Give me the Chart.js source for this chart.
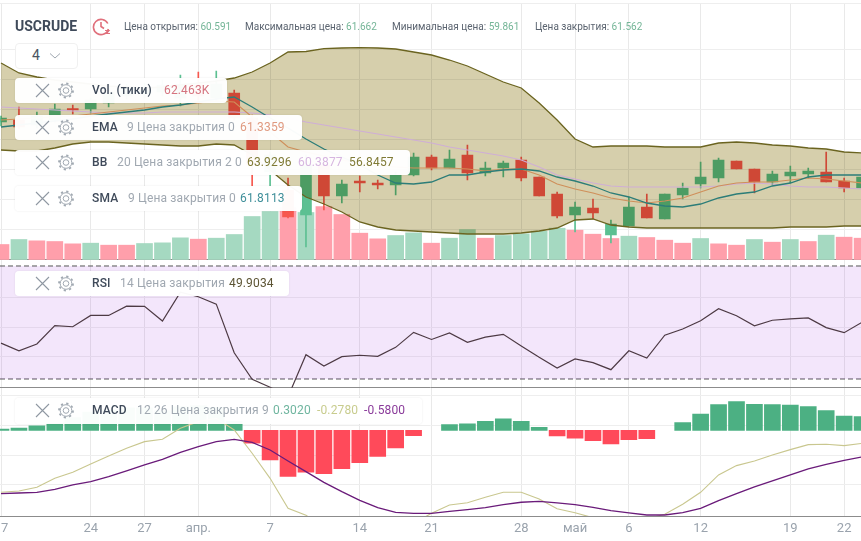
<!DOCTYPE html>
<html>
<head>
<meta charset="utf-8">
<title>USCRUDE</title>
<script src="https://cdn.jsdelivr.net/npm/chart.js@4"></script>
<style>
  html, body { margin: 0; padding: 0; background: #fff; width: 861px; height: 541px; overflow: hidden; }
  body { position: relative; font-family: Roboto, sans-serif; }
  canvas { position: absolute; left: 0; top: 0; }
  .txt { position: absolute; white-space: nowrap; }
  .head { top: 20px; font-size: 10px; line-height: 13px; color: #5b6470; }
  .head b { font-weight: 400; color: #74b597; }
  .tag { position: absolute; left: 15px; height: 25px; background: rgba(255,255,255,.97); border-radius: 4px; box-shadow: 0 0 2px rgba(0,0,0,.1); }
  .tag span { position: absolute; top: 0; line-height: 25px; font-size: 12px; letter-spacing: .15px; color: #a0a8b1; white-space: nowrap; }
  .tag .nm { left: 77px; font-size: 12px; font-weight: 500; color: #3f4a5a; }
  .tag svg { position: absolute; left: 19px; top: 4px; }
</style>
</head>
<body>
<canvas id="c" width="861" height="541" style="width:861px;height:541px"></canvas>

<div class="txt" style="left:15px;top:18px;font-size:14px;font-weight:700;line-height:17px;color:#3f4a5a">USCRUDE</div>
<svg class="txt" style="left:92px;top:17px" width="19" height="19" viewBox="0 0 19 19" fill="none" stroke="#e0707c" stroke-width="1.6">
  <path d="M15.8 6.5A7.6 7.6 0 1 0 16.4 12"/><path d="M9 5v4.5l3 2"/><path d="M13 13.5h4l-2.5 3h3.5" stroke-width="1.2"/>
</svg>
<div class="txt head" style="left:124px">Цена открытия: <b>60.591</b></div>
<div class="txt head" style="left:245px">Максимальная цена: <b>61.662</b></div>
<div class="txt head" style="left:392px">Минимальная цена: <b>59.861</b></div>
<div class="txt head" style="left:535px">Цена закрытия: <b>61.562</b></div>

<div class="txt" style="left:15px;top:43px;width:61px;height:24px;border:1px solid #f0f0f0;border-radius:4px;background:#fff">
  <span class="txt" style="left:16px;top:3px;font-size:14px;line-height:17px;color:#4a5462">4</span>
  <svg class="txt" style="left:33px;top:8px" width="12" height="8"><path d="M1 1.5l5 4.5 5-4.5" fill="none" stroke="#a0a8b1"/></svg>
</div>

<svg width="0" height="0" style="position:absolute">
  <symbol id="tools" viewBox="0 0 50 17">
    <path d="M2 2l13 13M15 2L2 15" stroke="#8f98a2" stroke-width="1.1" fill="none"/>
    <g fill="none" stroke="#a0a8b1">
      <circle cx="32" cy="8.5" r="2.8"/><circle cx="32" cy="8.5" r="5.8"/>
      <circle cx="32" cy="8.5" r="7" stroke-width="1.8" stroke-dasharray="2.2 3.3"/>
    </g>
  </symbol>
</svg>

<div class="tag" style="top:78px;width:212px">
  <svg width="50" height="17"><use href="#tools"/></svg>
  <span class="nm">Vol. (тики)</span><span style="left:149px;color:#d5747f">62.463K</span>
</div>
<div class="tag" style="top:115px;width:287px">
  <svg width="50" height="17"><use href="#tools"/></svg>
  <span class="nm">EMA</span><span style="left:112px">9 Цена закрытия 0</span><span style="left:225px;color:#e09a80">61.3359</span>
</div>
<div class="tag" style="top:150px;width:395px">
  <svg width="50" height="17"><use href="#tools"/></svg>
  <span class="nm">BB</span><span style="left:102px">20 Цена закрытия 2 0</span><span style="left:232px;color:#7f7a35">63.9296</span><span style="left:283px;color:#d6b6e0">60.3877</span><span style="left:334px;color:#7f7a35">56.8457</span>
</div>
<div class="tag" style="top:186px;width:287px">
  <svg width="50" height="17"><use href="#tools"/></svg>
  <span class="nm">SMA</span><span style="left:113px">9 Цена закрытия 0</span><span style="left:225px;color:#3f8f9a">61.8113</span>
</div>
<div class="tag" style="top:271px;width:274px">
  <svg width="50" height="17"><use href="#tools"/></svg>
  <span class="nm">RSI</span><span style="left:105px">14 Цена закрытия</span><span style="left:214px;color:#5c5434">49.9034</span>
</div>
<div class="tag" style="top:398px;width:407px;height:26px">
  <svg width="50" height="17"><use href="#tools"/></svg>
  <span class="nm">MACD</span><span style="left:122px">12 26 Цена закрытия 9</span><span style="left:258px;color:#6fb59f">0.3020</span><span style="left:302px;color:#c8cc8e">-0.2780</span><span style="left:349px;color:#8a3a9a">-0.5800</span>
</div>

<script>
// ticks on the time axis
var tickIndex = [0, 5, 8, 11, 15, 20, 24, 29, 32, 35, 39, 44, 47];
var tickLabels = ['17', '24', '27', 'апр.', '7', '14', '21', '28', 'май', '6', '12', '19', '22'];

// candles
var open = [67.06,67.26,66.76,67.26,68.41,68.36,68.96,69.66,69.86,70.06,69.46,70.76,69.46,69.96,67.46,62.06,60.26,57.76,62.76,59.66,61.16,60.96,60.76,61.76,63.56,62.46,63.76,61.96,62.46,63.26,61.56,59.86,57.76,58.46,55.76,56.66,58.56,57.36,59.76,60.86,61.46,63.16,62.36,61.06,61.66,61.86,62.06,61.16,60.46];
var close = [67.46,66.56,67.66,68.36,68.26,69.26,70.06,70.46,70.26,70.76,70.86,69.66,70.86,67.46,62.76,63.76,57.56,62.76,59.66,60.86,60.96,60.76,61.76,63.56,62.46,63.36,61.96,62.46,62.96,61.46,59.66,57.66,58.56,57.96,56.86,58.56,57.46,59.86,60.46,61.56,63.26,62.36,61.06,61.86,62.06,62.16,61.06,60.46,61.56];
var high = [67.66,68.56,68.06,68.86,68.76,69.46,70.46,70.86,70.96,71.26,71.76,72.06,72.16,70.26,67.76,64.06,61.46,63.76,63.26,61.26,61.66,61.26,62.06,63.96,63.76,64.26,64.76,63.06,63.16,63.56,61.56,60.06,59.06,59.36,57.26,59.56,59.86,59.86,60.96,63.06,63.46,63.16,62.36,62.16,62.66,62.46,64.06,61.46,61.56];
var low = [66.66,66.36,66.46,67.06,67.86,67.96,68.56,69.36,69.46,69.66,68.66,69.26,69.26,67.26,60.66,60.66,57.46,54.56,58.26,58.96,60.06,60.36,59.76,61.66,62.26,62.46,61.26,61.66,61.56,61.16,59.66,57.46,56.06,57.36,54.96,56.66,57.46,57.36,59.36,60.46,61.06,62.36,59.96,60.76,60.96,61.46,61.06,60.06,59.86];

// overlays on the price pane
var bbUpper = [72.96,71.96,71.56,71.26,71.06,70.86,70.66,70.56,70.46,70.56,70.76,70.96,71.16,71.46,72.06,72.96,74.06,74.11,74.39,74.46,74.49,74.46,74.36,74.06,73.76,73.26,72.66,71.86,71.06,70.46,68.96,67.26,65.36,64.56,64.66,64.66,64.66,64.56,64.56,64.56,64.96,65.06,64.96,64.76,64.66,64.46,64.36,64.06,63.96];
var bbMiddle = [68.56,68.46,68.36,68.26,68.16,68.06,67.96,67.96,67.96,68.06,68.06,68.06,68.06,68.06,67.96,67.76,67.46,67.06,66.76,66.46,66.16,65.86,65.56,65.26,64.96,64.56,64.26,63.96,63.66,63.26,62.56,61.76,61.36,60.96,60.66,60.56,60.56,60.56,60.56,60.56,60.66,60.86,60.96,60.86,60.66,60.56,60.56,60.46,60.36];
var bbLower = [64.26,64.16,64.16,64.46,64.86,65.06,65.06,64.96,64.86,64.76,64.66,64.66,64.86,64.76,63.76,62.26,60.76,59.56,58.86,58.06,57.06,56.56,56.26,56.16,56.06,55.96,55.86,55.86,55.86,55.96,56.16,56.46,57.26,57.36,56.76,56.56,56.46,56.46,56.46,56.46,56.46,56.46,56.46,56.46,56.56,56.56,56.56,56.66,56.66];
var ema = [67.26,67.36,67.46,67.56,67.66,67.86,68.06,68.26,68.46,68.66,68.76,68.96,69.16,69.06,67.56,66.06,64.56,64.06,63.66,63.26,62.96,62.76,62.56,62.46,62.46,62.46,62.36,62.16,62.36,62.36,61.76,60.86,60.36,59.96,59.46,59.16,58.96,59.16,59.46,60.06,60.66,60.96,61.06,61.06,61.26,61.46,61.36,61.16,60.96];
var sma = [66.56,66.76,66.96,67.16,67.36,67.66,67.86,68.06,68.26,68.56,68.76,69.06,69.36,69.56,68.56,67.46,66.46,65.36,64.36,63.56,62.76,61.76,60.96,60.86,61.06,61.76,61.76,62.06,62.26,62.36,62.16,61.56,61.16,60.66,59.96,59.56,58.96,58.66,58.56,58.86,59.46,59.86,60.06,60.66,60.96,61.56,61.76,61.76,61.76];

// volume, thousands of ticks, and whether the volume bar is green
var volume = [45,60,56,54,47,49,43,43,48,50,65,61,64,75,129,144,156,141,159,135,79,62,72,80,49,64,90,64,72,77,85,94,88,76,63,70,66,58,49,63,47,43,60,52,60,54,73,67,64];
var volumeUp = [0,1,0,0,0,1,0,0,1,1,1,0,1,1,1,1,0,1,0,0,0,0,1,1,0,1,1,0,1,1,1,1,0,0,0,1,0,0,0,1,0,0,1,0,1,0,1,0,0];

var rsi = [42.7,40.0,42.4,48.9,48.5,52.5,52.5,55.8,55.7,50.5,60.7,59.1,56.5,39.3,29.9,27.1,23.7,38.6,34.6,37.9,38.4,38.0,41.2,46.5,44.0,46.3,43.0,44.8,45.8,41.7,37.7,33.9,37.1,35.8,33.3,40.0,37.4,45.5,47.7,50.6,54.9,52.4,48.8,50.8,51.3,51.6,48.2,46.4,50.1];
var rsiLevels = [70, 30];

var macdHist = [0.03,0.05,0.10,0.15,0.28,0.40,0.45,0.49,0.49,0.43,0.52,0.54,0.50,0.20,-0.275,-0.64,-1.0,-0.906,-0.94,-0.83,-0.70,-0.565,-0.38,-0.116,null,0.13,0.145,0.196,0.254,0.20,0.07,-0.12,-0.17,-0.22,-0.29,-0.20,-0.18,null,0.17,0.355,0.56,0.63,0.57,0.56,0.55,0.52,0.43,0.31,0.30];
var macdLine = [-1.344,-1.315,-1.235,-1.04,-0.91,-0.73,-0.554,-0.388,-0.243,-0.192,0.047,0.192,0.264,0.01,-0.496,-1.04,-1.69,-1.84,-2.13,-2.35,-2.5,-2.55,-2.3,-2.02,-1.8,-1.62,-1.57,-1.45,-1.344,-1.344,-1.49,-1.7,-1.79,-1.895,-2.02,-2.05,-1.92,-1.82,-1.605,-1.344,-0.967,-0.764,-0.663,-0.533,-0.417,-0.308,-0.3,-0.33,-0.28];
var macdSignal = [-1.373,-1.359,-1.344,-1.279,-1.185,-1.112,-1.004,-0.88,-0.75,-0.627,-0.475,-0.351,-0.243,-0.192,-0.257,-0.424,-0.663,-0.895,-1.127,-1.33,-1.518,-1.678,-1.779,-1.8,-1.8,-1.757,-1.72,-1.677,-1.612,-1.56,-1.54,-1.576,-1.612,-1.67,-1.743,-1.793,-1.837,-1.837,-1.786,-1.692,-1.525,-1.373,-1.228,-1.098,-0.967,-0.837,-0.735,-0.648,-0.576];

// axis ranges and grid lines
var xMin = -0.056, xMax = 47.94;
var priceMin = 53.31, priceMax = 78.96;
var priceGrid = [78.96, 74.3, 71.3, 68.3, 65.3, 62.3, 59.3, 56.3, 53.31];
var rsiMin = 26.9, rsiMax = 72.3;
var rsiGrid = [59, 48.4, 37.8, 26.9];
var macdMin = -1.859, macdMax = 0.928;
var macdGrid = [0.75, 0.1, -0.54, -1.18];
var volumeRange = 769.5;

var GREEN = '#5cc092', RED = '#f7584f';

function pts(arr) {
  return arr.map(function(y, x) { return { x: x, y: y }; });
}
function range(a, b) {
  return a.map(function(v, i) { return { x: i, y: [v, b[i]] }; });
}
function line(data, color, order, yAxisID, width) {
  return { type: 'line', data: data, borderColor: color, borderWidth: width || 1.1, pointRadius: 0, tension: 0, order: order, yAxisID: yAxisID };
}
function bars(data, colors, thickness, order, yAxisID) {
  return { type: 'bar', data: data, backgroundColor: colors, barThickness: thickness, grouped: false, borderWidth: 0, order: order, yAxisID: yAxisID };
}
function fixedTicks(values) {
  return function(s) { s.ticks = values.map(function(v) { return { value: v }; }); };
}

var candleColors = close.map(function(c, i) { return c >= open[i] ? GREEN : RED; });
var volumeColors = volumeUp.map(function(u) { return u ? '#a5d9c1' : '#ff9fab'; });
var histColors = macdHist.map(function(v) { return v >= 0 ? '#4cb083' : '#ff4a5a'; });

var datasets = [
  bars(pts(volume), volumeColors, 16, 10, 'yVol'),        // 0
  bars(range(low, high), candleColors, 1, 9, 'y'),        // 1
  bars(range(open, close), candleColors, 11, 8, 'y'),     // 2
  line(pts(bbUpper), '#6b6420', 5, 'y', 1.3),             // 3
  line(pts(bbLower), '#6b6420', 5, 'y', 1.3),             // 4
  line(pts(bbMiddle), '#cfaed6', 4, 'y'),
  line(pts(ema), '#cf8f5a', 3, 'y'),
  line(pts(sma), '#2c7d78', 2, 'y', 1.3),
  // lavender band between the two RSI levels
  Object.assign(line([{ x: xMin, y: rsiLevels[0] }, { x: xMax, y: rsiLevels[0] }], '#555', 7, 'yRsi', 1), {
    borderDash: [5, 3],
    fill: { target: { value: rsiLevels[1] }, above: 'rgba(153,50,220,.12)', below: 'rgba(153,50,220,.12)' }
  }),
  Object.assign(line([{ x: xMin, y: rsiLevels[1] }, { x: xMax, y: rsiLevels[1] }], '#555', 7, 'yRsi', 1), { borderDash: [5, 3] }),
  line(pts(rsi), '#4d3a44', 1, 'yRsi', 1.2),
  bars(pts(macdHist), histColors, 16, 7, 'yMacd'),
  line(pts(macdLine), '#c9c78f', 2, 'yMacd', 1.1),
  line(pts(macdSignal), '#6a1b7a', 1, 'yMacd', 1.3)
];

// the Bollinger band is multiplied over volume and candles, so they tint through it
var bandFill = {
  id: 'bandFill',
  afterDatasetDraw: function(chart, args) {
    if (args.index !== 2) return;
    var up = chart.getDatasetMeta(3).data, lo = chart.getDatasetMeta(4).data;
    var ctx = chart.ctx;
    ctx.save();
    ctx.globalCompositeOperation = 'multiply';
    ctx.fillStyle = '#d6cfac';
    ctx.beginPath();
    up.forEach(function(p, i) { i ? ctx.lineTo(p.x, p.y) : ctx.moveTo(p.x, p.y); });
    for (var i = lo.length - 1; i >= 0; i--) ctx.lineTo(lo[i].x, lo[i].y);
    ctx.closePath();
    ctx.fill();
    ctx.restore();
  }
};

function paneGrid(bottom) {
  return {
    drawTicks: false,
    color: function(c) { return c.tick && c.tick.value === bottom ? '#8c8c8c' : '#eeeeee'; }
  };
}
function paneAxis(min, max, weight, gridValues, bottom) {
  return {
    stack: 'panes', stackWeight: weight, min: min, max: max, position: 'left',
    border: { display: false }, ticks: { display: false },
    grid: paneGrid(bottom), afterBuildTicks: fixedTicks(gridValues)
  };
}

new Chart(document.getElementById('c'), {
  data: { datasets: datasets },
  plugins: [bandFill],
  options: {
    responsive: false,
    animation: false,
    events: [],
    layout: { padding: { top: 3, left: 0, right: 0, bottom: 0 } },
    plugins: { legend: { display: false }, tooltip: { enabled: false } },
    scales: {
      x: {
        type: 'linear', min: xMin, max: xMax, offset: false,
        border: { color: '#8c8c8c' },
        grid: { color: '#e9e9e9', drawTicks: false, offset: false },
        afterBuildTicks: fixedTicks(tickIndex),
        afterFit: function(s) { s.height = 25; s.paddingLeft = 0; s.paddingRight = 0; },
        ticks: {
          autoSkip: false, maxRotation: 0, padding: 5, color: '#9aa3ad',
          font: { family: 'Roboto', size: 13 },
          callback: function(v, i) { return tickLabels[i]; }
        }
      },
      yMacd: paneAxis(macdMin, macdMax, 1, macdGrid, null),
      yRsi: paneAxis(rsiMin, rsiMax, 1, rsiGrid, rsiMin),
      y: paneAxis(priceMin, priceMax, 2, priceGrid, priceMin),
      yVol: { display: false, min: -volumeRange, max: volumeRange }
    }
  }
});
</script>
</body>
</html>
